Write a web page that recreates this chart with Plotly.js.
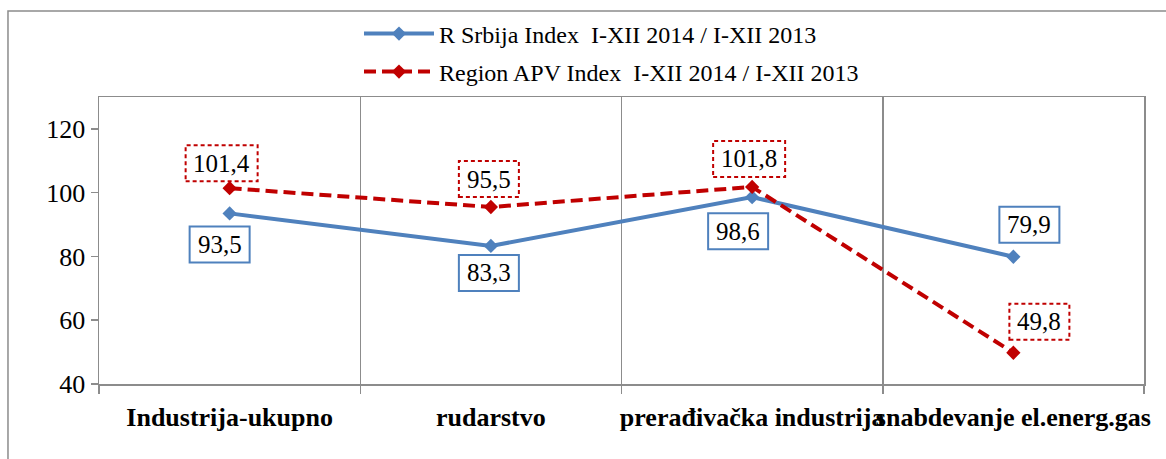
<!DOCTYPE html>
<html><head><meta charset="utf-8">
<script src="https://cdn.plot.ly/plotly-3.0.1.min.js"></script>
<style>html,body{margin:0;padding:0;background:#fff}#chart{width:1166px;height:459px}</style>
</head><body><div id="chart"></div>
<script>
// ---- data ----
const categories = ['Industrija-ukupno', 'rudarstvo', 'prerađivačka industrija', 'snabdevanje el.energ.gas'];
const srbijaValues = [93.5, 83.3, 98.6, 79.9];
const apvValues = [101.4, 95.5, 101.8, 49.8];
const seriesNames = ['R Srbija Index\u00a0 I-XII 2014 / I-XII 2013', 'Region APV Index\u00a0 I-XII 2014 / I-XII 2013'];
const yTickValues = [40, 60, 80, 100, 120];

// ---- label placement (pixel offsets of box centres from points; +dy = down) ----
const srbijaLabelOffsets = [[-10, 31], [-2, 27], [-14, 34], [16, -32]];
const apvLabelOffsets = [[-8, -25], [-2, -28], [-3, -28], [26, -31]];

const BLUE = '#4F81BD', RED = '#C00000', GRID = '#8C8C8C';
const SERIF = 'Liberation Serif';
const fmt = v => v.toFixed(1).replace('.', ',');

const traces = [
  {x: categories, y: srbijaValues, name: seriesNames[0], type: 'scatter', mode: 'lines+markers',
   line: {color: BLUE, width: 4}, marker: {symbol: 'diamond', size: 11, color: BLUE}, legend: 'legend'},
  {x: categories, y: apvValues, name: seriesNames[1], type: 'scatter', mode: 'lines+markers',
   line: {color: RED, width: 4, dash: '12px,6px'}, marker: {symbol: 'diamond', size: 11, color: RED}, legend: 'legend2'}
];

const shapes = [];
const annotations = [];
function addLabels(values, offsets, color, dash) {
  values.forEach((v, i) => {
    const [dx, dy] = offsets[i];
    const txt = fmt(v);
    const w = txt.length > 4 ? 72 : 60, h = 36;
    shapes.push({type: 'rect', xref: 'x', yref: 'y', xsizemode: 'pixel', ysizemode: 'pixel',
      xanchor: i, yanchor: v, x0: dx - w / 2, x1: dx + w / 2, y0: -dy - h / 2, y1: -dy + h / 2,
      line: {color: color, width: 2, dash: dash}, fillcolor: 'rgba(255,255,255,1)', layer: 'above'});
    annotations.push({xref: 'x', yref: 'y', x: i, y: v, text: txt, showarrow: false,
      xshift: dx, yshift: -dy, xanchor: 'center', yanchor: 'middle',
      font: {family: SERIF, size: 25, color: '#000'}});
  });
}
addLabels(srbijaValues, srbijaLabelOffsets, BLUE, 'solid');
addLabels(apvValues, apvLabelOffsets, RED, '4px,3px');

// outer chart border
shapes.push({type: 'rect', xref: 'paper', yref: 'paper', x0: -0.0871, x1: 1.2, y0: -0.6, y1: 1.2997,
  line: {color: GRID, width: 1.5}, fillcolor: 'rgba(0,0,0,0)', layer: 'below'});

const layout = {
  width: 1166, height: 459,
  margin: {l: 99, r: 22, t: 97, b: 75},
  paper_bgcolor: '#fff', plot_bgcolor: '#fff',
  font: {family: SERIF, color: '#000'},
  showlegend: true,
  xaxis: {type: 'category', range: [-0.5, 3.5], tickson: 'boundaries', showgrid: true,
    gridcolor: GRID, gridwidth: 1.5, showline: true, linecolor: GRID, linewidth: 1.5, mirror: true,
    ticks: 'outside', ticklen: 8, tickcolor: GRID, tickwidth: 1.5, tickangle: 0, fixedrange: true,
    ticklabelstandoff: 9,
    tickfont: {family: SERIF, size: 26, color: '#000', weight: 'bold'}, automargin: false},
  yaxis: {range: [40, 130], tickvals: yTickValues, ticktext: yTickValues.map(String), showgrid: false,
    zeroline: false, showline: true, linecolor: GRID, linewidth: 1.5, mirror: true,
    ticks: 'outside', ticklen: 7, tickcolor: GRID, tickwidth: 1.5, automargin: false,
    tickfont: {family: SERIF, size: 26, color: '#000'}},
  legend: {x: 0.2488, y: 1.2195, xanchor: 'left', yanchor: 'middle', itemwidth: 70,
    font: {family: SERIF, size: 24, color: '#000'}, bgcolor: 'rgba(0,0,0,0)', borderwidth: 0},
  legend2: {x: 0.2488, y: 1.0871, xanchor: 'left', yanchor: 'middle', itemwidth: 70,
    font: {family: SERIF, size: 24, color: '#000'}, bgcolor: 'rgba(0,0,0,0)', borderwidth: 0},
  shapes: shapes,
  annotations: annotations
};

Plotly.newPlot('chart', traces, layout, {displayModeBar: false, staticPlot: true});
</script>
</body></html>
